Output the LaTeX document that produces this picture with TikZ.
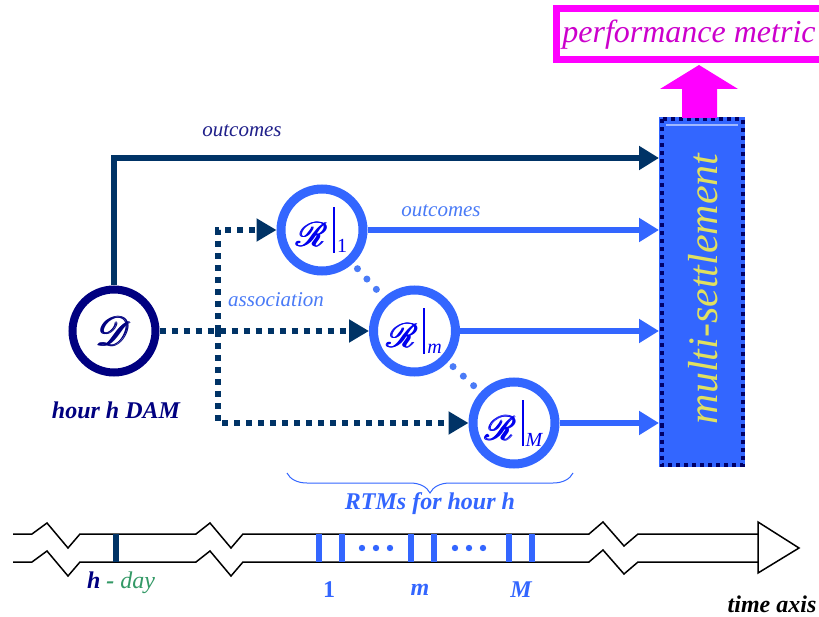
\documentclass[tikz,border=0pt]{standalone}
\usepackage{fontspec}
\setmainfont{Liberation Serif}
\usepackage{amsmath}
\usepackage{mathrsfs}
\usepackage{graphicx}
\usetikzlibrary{arrows.meta,decorations.pathreplacing,calc}

\definecolor{pmborder}{HTML}{FF00FF}
\definecolor{pmtext}{HTML}{CC00CC}
\definecolor{damnavy}{HTML}{000080}
\definecolor{linknavy}{HTML}{003366}
\definecolor{rtmblue}{HTML}{3366FF}
\definecolor{rtmtext}{HTML}{0000EE}
\definecolor{lblblue}{HTML}{4A7BF7}
\definecolor{topnavy}{HTML}{20208A}
\definecolor{msfill}{HTML}{3366FF}
\definecolor{msdash}{HTML}{000066}
\definecolor{msyellow}{HTML}{E0E060}
\definecolor{msline}{HTML}{A0B8FF}
\definecolor{daygreen}{HTML}{339966}

% script letters, set at 10pt and enlarged
\newcommand{\scriptletter}[2]{{\fontsize{10}{12}\selectfont\scalebox{#1}{$\pmb{\mathscr{#2}}$}}}
% R with a restriction bar and an index
\newcommand{\rtmlabel}[1]{\scriptletter{3.4}{R}\hspace{5pt}\rule[-6pt]{2pt}{46pt}\hspace{2pt}\raisebox{-6pt}{\fontsize{20}{22}\selectfont #1}}

\begin{document}
\begin{tikzpicture}[x=1pt,y=-1pt,
  damnode/.style={circle, draw=damnavy, line width=8pt, minimum size=83pt,
    inner sep=0pt, text=damnavy},
  rtmnode/.style={circle, draw=rtmblue, line width=9pt, minimum size=82pt,
    inner sep=0pt, text=rtmtext},
  outarrow/.style={draw=rtmblue, line width=6pt,
    -{Triangle[length=20pt,width=23pt]}},
  toparrow/.style={draw=linknavy, line width=6pt,
    -{Triangle[length=20pt,width=23pt]}},
  assoc/.style={draw=linknavy, line width=6pt, dash pattern=on 6pt off 6pt,
    -{Triangle[length=20pt,width=22pt]}},
  chaindots/.style={draw=lblblue, line width=7pt, line cap=round,
    dash pattern=on 0pt off 14pt, dash phase=7pt},
  itlabel/.style={font=\fontsize{21}{24}\selectfont\itshape},
  bilabel/.style={font=\fontsize{24}{28}\selectfont\bfseries\itshape},
  axisline/.style={draw=black, line width=1.5pt, line join=miter},
  tickmark/.style={line width=6pt}
]
\useasboundingbox (0,0) rectangle (819,617);
\clip (0,0) rectangle (819,617);
\fill[white] (0,0) rectangle (819,617);

% performance metric box (runs past the right edge)
\draw[pmborder, line width=7pt] (556.5,8.5) rectangle (880,59.5);
\node[text=pmtext, font=\fontsize{32}{36}\selectfont\itshape] (pm) at (689,35)
  {performance metric};

% multi-settlement block
\node[fill=msfill, minimum width=86pt, minimum height=350pt, anchor=north west,
  inner sep=0pt] (ms) at (659,117) {};
\draw[msdash, line width=4pt, dash pattern=on 4pt off 4pt]
  ([shift={(2.5,2.5)}]ms.north west) rectangle ([shift={(-2.5,-2.5)}]ms.south east);
\draw[msline, line width=2pt] ([shift={(7,8)}]ms.north west) -- ([shift={(-7,8)}]ms.north east);
\node[rotate=90, text=msyellow, font=\fontsize{42}{46}\selectfont\itshape]
  (mstext) at (703,289) {multi-settlement};

% block arrow up to the metric
\fill[pmborder] (682,118) -- (682,89) -- (660,89) -- (699,65) -- (738,89)
  -- (717,89) -- (717,118) -- cycle;

% markets
\node[damnode] (D) at (114,331) {\scriptletter{4}{D}};
\node[rtmnode] (R1) at (322,230) {\rtmlabel{1}};
\node[rtmnode] (Rm) at (414.5,331) {\rtmlabel{\itshape m}};
\node[rtmnode] (RM) at (514,423) {\rtmlabel{\itshape M}};
\coordinate (J) at (218,331);

% outcomes
\draw[toparrow] (D.north) |- ($(ms.north west)+(0,41)$);
\draw[outarrow] (R1.east) -- (R1.east -| ms.west);
\draw[outarrow] (Rm.east) -- (Rm.east -| ms.west);
\draw[outarrow] (RM.east) -- (RM.east -| ms.west);

% association
\draw[assoc] (D.east) -- (Rm.west);
\draw[assoc] (J) |- (R1.west);
\draw[assoc] (J) |- (RM.west);
\draw[chaindots] (R1) -- (Rm);
\draw[chaindots] (Rm) -- (RM);

% labels
\node[itlabel, text=topnavy] (lout1) at (242,131) {outcomes};
\node[itlabel, text=lblblue] (lout2) at (441,211) {outcomes};
\node[itlabel, text=lblblue] (lassoc) at (276,300) {association};
\node[bilabel, text=damnavy] (ldam) at (116,410) {hour h DAM};

% brace over the real-time markets
\draw[rtmblue, line width=1pt,
  decorate, decoration={brace, mirror, amplitude=20pt}] (287,473) -- (573,473);
\node[bilabel, text=rtmblue] (lrtm) at (430,504) {RTMs for hour h};

% time axis
\foreach \dy in {0,28} {
  \draw[axisline] (13,534+\dy) -- (32,534+\dy) -- (47,523+\dy) -- (68,548+\dy)
    -- (80,534+\dy) -- (196,534+\dy) -- (210,523+\dy) -- (231,548+\dy)
    -- (243,534+\dy) -- (589,534+\dy) -- (603,522+\dy) -- (624,546+\dy)
    -- (638,534+\dy) -- (758,534+\dy);
}
\draw[axisline, fill=white] (758,522) -- (799,548) -- (758,573) -- cycle;

\draw[tickmark, linknavy] (116,534) -- (116,562);
\foreach \x in {319,342,411,434,509,532}
  \draw[tickmark, rtmblue] (\x,534) -- (\x,562);
\foreach \x in {362,376,390,455,469,483}
  \fill[rtmblue] (\x,548) circle (3.2pt);

\node[font=\fontsize{24}{28}\selectfont\itshape] (lday) at (121,583)
  {\textcolor{damnavy}{\bfseries h} \textcolor{daygreen}{\bfseries -} \textcolor{daygreen}{day}};
\node[bilabel, text=rtmblue] (l1) at (329,590) {\upshape 1};
\node[bilabel, text=rtmblue] (lm) at (420,590) {m};
\node[bilabel, text=rtmblue] (lM) at (521,590) {M};
\node[bilabel, text=black] (ltime) at (772,604) {time axis};
\end{tikzpicture}
\end{document}
